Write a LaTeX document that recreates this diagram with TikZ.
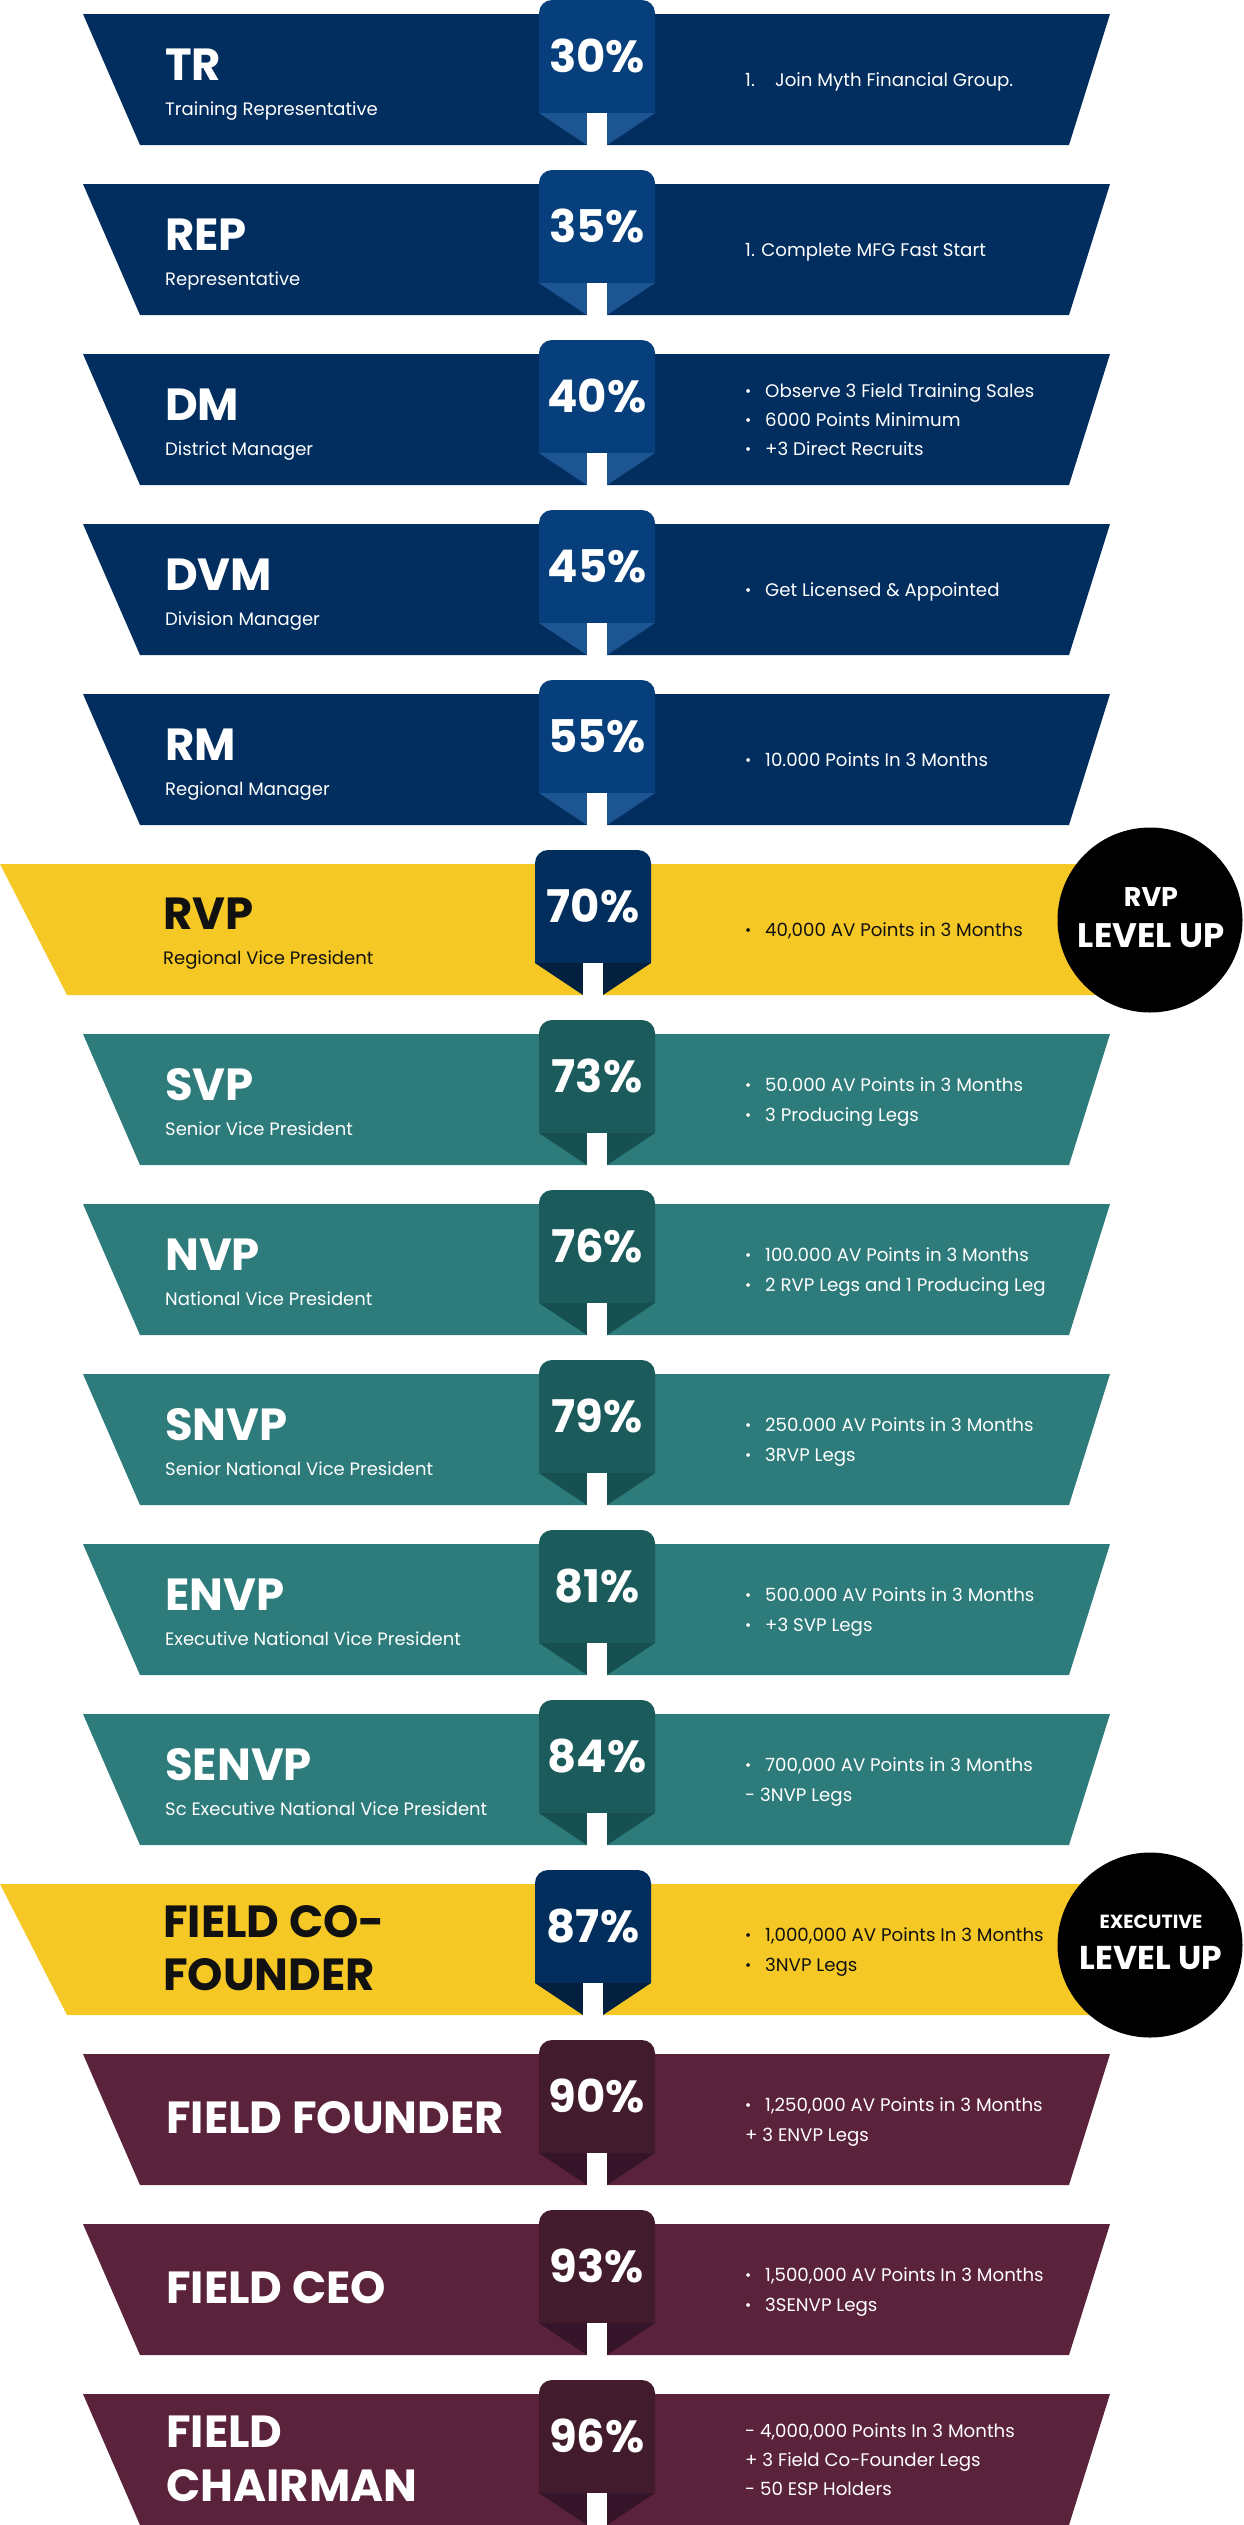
\documentclass[tikz,border=0pt]{standalone}
\usepackage{fontspec}
\setmainfont{Poppins}
\definecolor{cNavy}{HTML}{012E5E}
\definecolor{cNavyTag}{HTML}{063F7B}
\definecolor{cNavyTail}{HTML}{1C5592}
\definecolor{cGold}{HTML}{F5C825}
\definecolor{cGoldTag}{HTML}{012E5C}
\definecolor{cGoldTail}{HTML}{03213F}
\definecolor{cTeal}{HTML}{2D7B7A}
\definecolor{cTealTag}{HTML}{1B5B5C}
\definecolor{cTealTail}{HTML}{165050}
\definecolor{cMaroon}{HTML}{5A223B}
\definecolor{cMaroonTag}{HTML}{421B2D}
\definecolor{cMaroonTail}{HTML}{36152A}
\definecolor{cInk}{HTML}{111111}
\tikzset{
  rtitle/.style={anchor=base west, inner sep=0pt, font=\fontsize{45}{45}\selectfont\bfseries},
  rtitlef/.style={anchor=base west, inner sep=0pt, font=\fontsize{45}{45}\selectfont\bfseries},
  rsubt/.style={anchor=base west, inner sep=0pt, font=\fontsize{18}{20}\selectfont},
  rpct/.style={anchor=base, inner sep=0pt, text=white, font=\fontsize{45}{45}\selectfont\bfseries},
  rreq/.style={anchor=base west, inner sep=0pt, font=\fontsize{18.2}{20}\selectfont},
  badge/.style={circle, fill=black, minimum size=185pt, inner sep=0pt},
  badgesmall/.style={anchor=base, inner sep=0pt, text=white, font=\fontsize{27}{27}\selectfont\bfseries},
  badgebig/.style={anchor=base, inner sep=0pt, text=white, font=\fontsize{34}{34}\selectfont\bfseries},
}
\newcommand{\regband}[2]{\fill[#2] (83,#1) -- (1110,#1) -- (1069,#1+131) -- (140,#1+131) -- cycle;}
\newcommand{\goldband}[1]{\fill[cGold] (0,#1) -- (1150,#1) -- (1150,#1+131) -- (67,#1+131) -- cycle;}
\newcommand{\ptag}[4]{%
  \fill[#3] (#2-58,#1+99) [rounded corners=13pt] -- (#2-58,#1-14) -- (#2+58,#1-14) [sharp corners] -- (#2+58,#1+99) -- cycle;
  \fill[#4] (#2-58,#1+99) -- (#2-10,#1+99) -- (#2-10,#1+131) -- cycle;
  \fill[#4] (#2+58,#1+99) -- (#2+10,#1+99) -- (#2+10,#1+131) -- cycle;
  \fill[white] (#2-10,#1+99) rectangle (#2+10,#1+131.5);
}
\newcommand{\bul}{\makebox[20pt][l]{\fontsize{15}{15}\selectfont\raisebox{1pt}{•}}}
\begin{document}
\begin{tikzpicture}[x=1pt,y=-1pt]
\useasboundingbox (0,0) rectangle (1243,2525);
% ---------- bands ----------
\regband{14}{cNavy}   \ptag{14}{597}{cNavyTag}{cNavyTail}
\regband{184}{cNavy}  \ptag{184}{597}{cNavyTag}{cNavyTail}
\regband{354}{cNavy}  \ptag{354}{597}{cNavyTag}{cNavyTail}
\regband{524}{cNavy}  \ptag{524}{597}{cNavyTag}{cNavyTail}
\regband{694}{cNavy}  \ptag{694}{597}{cNavyTag}{cNavyTail}
\goldband{864}        \ptag{864}{593}{cGoldTag}{cGoldTail}
\regband{1034}{cTeal} \ptag{1034}{597}{cTealTag}{cTealTail}
\regband{1204}{cTeal} \ptag{1204}{597}{cTealTag}{cTealTail}
\regband{1374}{cTeal} \ptag{1374}{597}{cTealTag}{cTealTail}
\regband{1544}{cTeal} \ptag{1544}{597}{cTealTag}{cTealTail}
\regband{1714}{cTeal} \ptag{1714}{597}{cTealTag}{cTealTail}
\goldband{1884}       \ptag{1884}{593}{cGoldTag}{cGoldTail}
\regband{2054}{cMaroon} \ptag{2054}{597}{cMaroonTag}{cMaroonTail}
\regband{2224}{cMaroon} \ptag{2224}{597}{cMaroonTag}{cMaroonTail}
\regband{2394}{cMaroon} \ptag{2394}{597}{cMaroonTag}{cMaroonTail}
% ---------- titles ----------
\node[rtitle, text=white] (t0) at (165,80) {TR};
\node[rsubt, text=white] (s0) at (165,115) {Training Representative};
\node[rtitle, text=white] (t1) at (165,250) {REP};
\node[rsubt, text=white] (s1) at (165,285) {Representative};
\node[rtitle, text=white] (t2) at (165,420) {DM};
\node[rsubt, text=white] (s2) at (165,455) {District Manager};
\node[rtitle, text=white] (t3) at (165,590) {DVM};
\node[rsubt, text=white] (s3) at (165,625) {Division Manager};
\node[rtitle, text=white] (t4) at (165,760) {RM};
\node[rsubt, text=white] (s4) at (165,795) {Regional Manager};
\node[rtitle, text=cInk] (t5) at (163,929) {RVP};
\node[rsubt, text=cInk] (s5) at (163,964) {Regional Vice President};
\node[rtitle, text=white] (t6) at (165,1100) {SVP};
\node[rsubt, text=white] (s6) at (165,1135) {Senior Vice President};
\node[rtitle, text=white] (t7) at (165,1270) {NVP};
\node[rsubt, text=white] (s7) at (165,1305) {National Vice President};
\node[rtitle, text=white] (t8) at (165,1440) {SNVP};
\node[rsubt, text=white] (s8) at (165,1475) {Senior National Vice President};
\node[rtitle, text=white] (t9) at (165,1610) {ENVP};
\node[rsubt, text=white] (s9) at (165,1645) {Executive National Vice President};
\node[rtitle, text=white] (t10) at (165,1780) {SENVP};
\node[rsubt, text=white] (s10) at (165,1815) {Sc Executive National Vice President};
\node[rtitlef, text=cInk] (t11a) at (163,1937) {FIELD CO-};
\node[rtitlef, text=cInk] (t11b) at (163,1990) {FOUNDER};
\node[rtitlef, text=white] (t12) at (166,2133) {FIELD FOUNDER};
\node[rtitlef, text=white] (t13) at (166,2303) {FIELD CEO};
\node[rtitlef, text=white] (t14a) at (166,2447) {FIELD};
\node[rtitlef, text=white] (t14b) at (166,2501) {CHAIRMAN};
% ---------- percentages ----------
\node[rpct] (p0) at (597,72) {30\%};
\node[rpct] (p1) at (597,242) {35\%};
\node[rpct] (p2) at (597,412) {40\%};
\node[rpct] (p3) at (597,582) {45\%};
\node[rpct] (p4) at (597,752) {55\%};
\node[rpct] (p5) at (593,922) {70\%};
\node[rpct] (p6) at (597,1092) {73\%};
\node[rpct] (p7) at (597,1262) {76\%};
\node[rpct] (p8) at (597,1432) {79\%};
\node[rpct] (p9) at (597,1602) {81\%};
\node[rpct] (p10) at (597,1772) {84\%};
\node[rpct] (p11) at (593,1942) {87\%};
\node[rpct] (p12) at (597,2112) {90\%};
\node[rpct] (p13) at (597,2282) {93\%};
\node[rpct] (p14) at (597,2452) {96\%};
% ---------- requirements ----------
\node[rreq, text=white] (r0) at (745,86) {\makebox[30pt][l]{1.}Join Myth Financial Group.};
\node[rreq, text=white] (r1) at (745,256) {1. Complete MFG Fast Start};
\node[rreq, text=white] (r2a) at (745,397) {\bul Observe 3 Field Training Sales};
\node[rreq, text=white] (r2b) at (745,426) {\bul 6000 Points Minimum};
\node[rreq, text=white] (r2c) at (745,455) {\bul +3 Direct Recruits};
\node[rreq, text=white] (r3) at (745,596) {\bul Get Licensed \& Appointed};
\node[rreq, text=white] (r4) at (745,766) {\bul 10.000 Points In 3 Months};
\node[rreq, text=cInk] (r5) at (745,936) {\bul 40,000 AV Points in 3 Months};
\node[rreq, text=white] (r6a) at (745,1091) {\bul 50.000 AV Points in 3 Months};
\node[rreq, text=white] (r6b) at (745,1121) {\bul 3 Producing Legs};
\node[rreq, text=white] (r7a) at (745,1261) {\bul 100.000 AV Points in 3 Months};
\node[rreq, text=white] (r7b) at (745,1291) {\bul 2 RVP Legs and 1 Producing Leg};
\node[rreq, text=white] (r8a) at (745,1431) {\bul 250.000 AV Points in 3 Months};
\node[rreq, text=white] (r8b) at (745,1461) {\bul 3RVP Legs};
\node[rreq, text=white] (r9a) at (745,1601) {\bul 500.000 AV Points in 3 Months};
\node[rreq, text=white] (r9b) at (745,1631) {\bul +3 SVP Legs};
\node[rreq, text=white] (r10a) at (745,1771) {\bul 700,000 AV Points in 3 Months};
\node[rreq, text=white] (r10b) at (745,1801) {- 3NVP Legs};
\node[rreq, text=cInk] (r11a) at (745,1941) {\bul 1,000,000 AV Points In 3 Months};
\node[rreq, text=cInk] (r11b) at (745,1971) {\bul 3NVP Legs};
\node[rreq, text=white] (r12a) at (745,2111) {\bul 1,250,000 AV Points in 3 Months};
\node[rreq, text=white] (r12b) at (745,2141) {+ 3 ENVP Legs};
\node[rreq, text=white] (r13a) at (745,2281) {\bul 1,500,000 AV Points In 3 Months};
\node[rreq, text=white] (r13b) at (745,2311) {\bul 3SENVP Legs};
\node[rreq, text=white] (r14a) at (745,2437) {- 4,000,000 Points In 3 Months};
\node[rreq, text=white] (r14b) at (745,2466) {+ 3 Field Co-Founder Legs};
\node[rreq, text=white] (r14c) at (745,2495) {- 50 ESP Holders};
% ---------- badges ----------
\node[badge] (b1) at (1150,920) {};
\node[badgesmall] (b1a) at (1151,906) {RVP};
\node[badgebig] (b1b) at (1151,947) {LEVEL UP};
\node[badge] (b2) at (1150,1945) {};
\node[badgesmall, font=\fontsize{19}{19}\selectfont\bfseries] (b2a) at (1151,1928) {EXECUTIVE};
\node[badgebig, font=\fontsize{33}{33}\selectfont\bfseries] (b2b) at (1151,1969) {LEVEL UP};
\end{tikzpicture}
\end{document}
